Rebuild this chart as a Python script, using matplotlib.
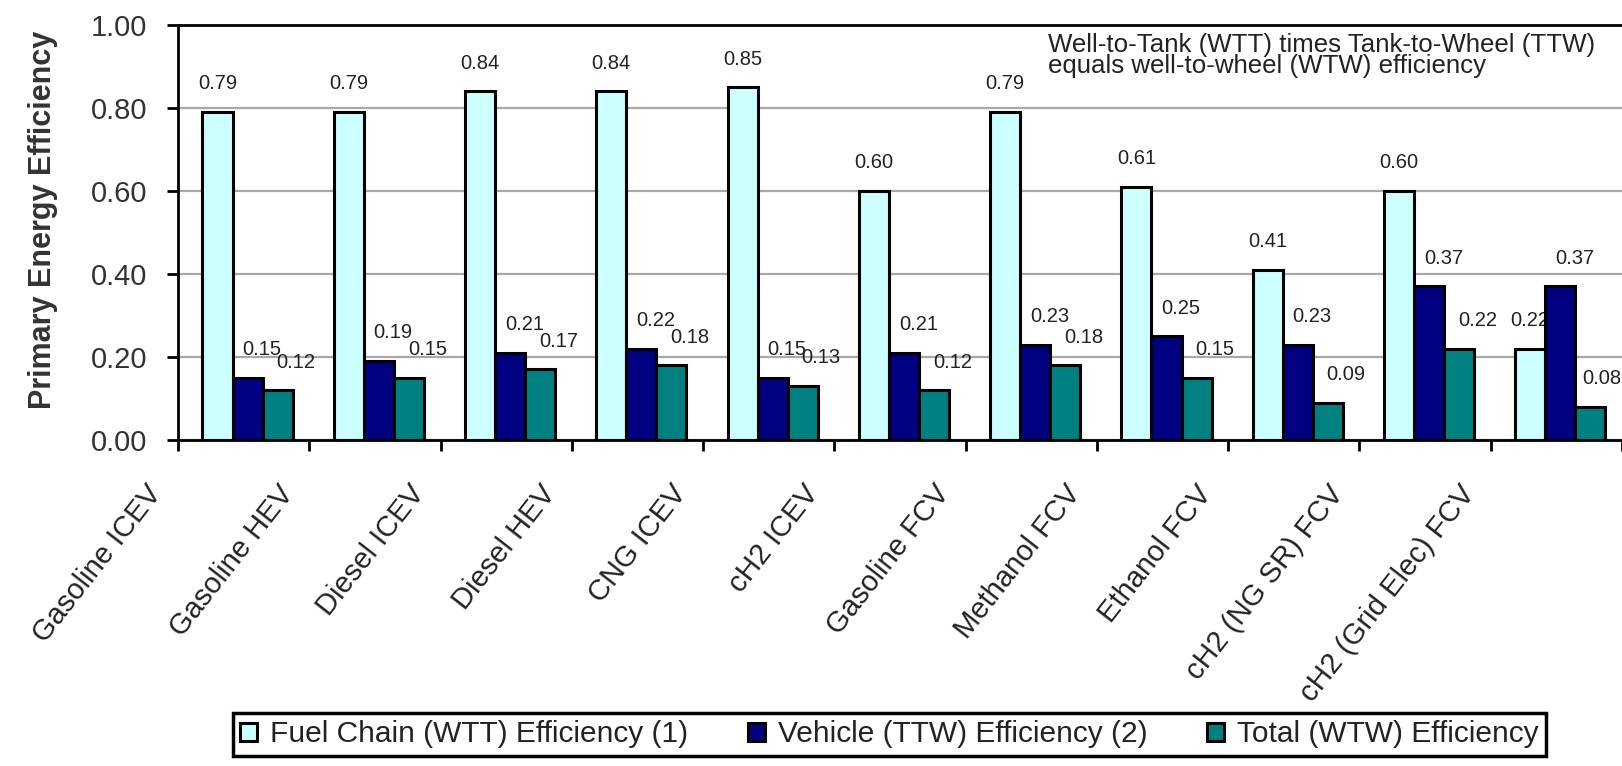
import numpy as np
import matplotlib
matplotlib.use('Agg')
import matplotlib.pyplot as plt
from matplotlib.transforms import ScaledTranslation

plt.rcParams['font.family'] = ['Liberation Sans', 'DejaVu Sans']

categories = ['Gasoline ICEV', 'Gasoline HEV', 'Diesel ICEV', 'Diesel HEV',
              'CNG ICEV', 'cH2 ICEV', 'Gasoline FCV', 'Methanol FCV',
              'Ethanol FCV', 'cH2 (NG SR) FCV', 'cH2 (Grid Elec) FCV']
wtt = [0.79, 0.79, 0.84, 0.84, 0.85, 0.60, 0.79, 0.61, 0.41, 0.60, 0.22]
ttw = [0.15, 0.19, 0.21, 0.22, 0.15, 0.21, 0.23, 0.25, 0.23, 0.37, 0.37]
wtw = [0.12, 0.15, 0.17, 0.18, 0.13, 0.12, 0.18, 0.15, 0.09, 0.22, 0.08]
series_names = ['Fuel Chain (WTT) Efficiency (1)', 'Vehicle (TTW) Efficiency (2)',
                'Total (WTW) Efficiency']
yticks = [0.0, 0.2, 0.4, 0.6, 0.8, 1.0]
note = 'Well-to-Tank (WTT) times Tank-to-Wheel (TTW)\nequals well-to-wheel (WTW) efficiency'

colors = ['#ccffff', '#000080', '#008080']
W, H = 1622, 766
fig = plt.figure(figsize=(W / 100, H / 100), dpi=100)
ax = fig.add_axes([178 / W, 1 - 440 / H, 1 - 178 / W, (440 - 25) / H])

x = np.arange(len(categories))
xmax = len(categories) - 0.5
bw = 0.229
# label x shift per series (Excel puts them a bit to the right)
lab_dx = [0.0, 0.11, 0.14]
bars = []
for k, vals in enumerate([wtt, ttw, wtw]):
    pos = x + (k - 1) * bw + 0.03
    b = ax.bar(pos, vals, bw, color=colors[k], edgecolor='black', linewidth=2.2,
               zorder=3, label=series_names[k])
    bars.append(b)
    for p, v in zip(pos, vals):
        lx = min(p + lab_dx[k], xmax - 0.15)  # keep inside the plot
        ax.text(lx, v + 0.045, f'{v:.2f}', ha='center', va='bottom',
                fontsize=14.5, color='#222222', zorder=2)

ax.set_xlim(-0.5, xmax)
ax.set_ylim(0, 1.0)
ax.set_yticks(yticks)
ax.set_yticklabels([f'{t:.2f}' for t in yticks], fontsize=21, color='#333333')
ax.yaxis.grid(True, color='#a8a8a8', linewidth=1.6)
ax.set_axisbelow(True)
ax.tick_params(axis='y', direction='out', length=8, width=2, pad=14)

ax.set_xticks(x)
ax.set_xticks(np.arange(-0.5, len(categories)), minor=True)
ax.tick_params(axis='x', which='major', length=0, pad=0)
ax.tick_params(axis='x', which='minor', direction='out', length=8, width=2)
ax.set_xticklabels(categories, rotation=52, ha='right', rotation_mode='anchor',
                   fontsize=21, color='#222222')
shift = ScaledTranslation(-0.98, -0.40, fig.dpi_scale_trans)
for lab in ax.get_xticklabels():
    lab.set_transform(lab.get_transform() + shift)

for s in ['left', 'bottom', 'top']:
    ax.spines[s].set_linewidth(2)
    ax.spines[s].set_color('black')
ax.spines['right'].set_visible(False)

ax.set_ylabel('Primary Energy Efficiency', fontsize=22, fontweight='bold',
              color='#333333')
ax.yaxis.set_label_coords(-0.083, 0.53)

ax.text(0.6025, 0.98, note, transform=ax.transAxes, ha='left', va='top',
        fontsize=18.6, color='#222222', linespacing=0.85)

leg = fig.legend(handles=bars, labels=series_names, loc='upper left',
                 bbox_to_anchor=(233 / W, 1 - 713 / H), ncol=3, fontsize=21.5,
                 frameon=True, fancybox=False, edgecolor='black', framealpha=1,
                 handlelength=0.55, handleheight=0.55, handletextpad=0.45,
                 columnspacing=2.0, borderpad=0.25, borderaxespad=0)
leg.get_frame().set_linewidth(2.5)
for t in leg.get_texts():
    t.set_color('#222222')

fig.savefig('out.png', dpi=100)
